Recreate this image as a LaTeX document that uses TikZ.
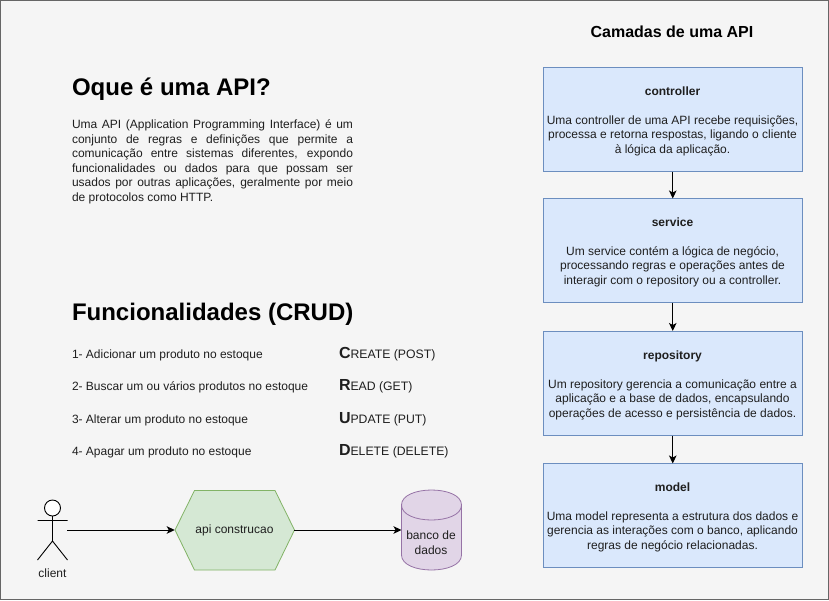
\documentclass[tikz,border=0pt]{standalone}
\usepackage{fontspec}
\setmainfont{Liberation Sans}
\usetikzlibrary{arrows.meta}
\definecolor{bgc}{HTML}{F5F5F5}
\definecolor{bdc}{HTML}{666666}
\definecolor{bluef}{HTML}{DAE8FC}
\definecolor{blued}{HTML}{6C8EBF}
\definecolor{greenf}{HTML}{D5E8D4}
\definecolor{greend}{HTML}{82B366}
\definecolor{purpf}{HTML}{E1D5E7}
\definecolor{purpd}{HTML}{9673A6}
\definecolor{txt}{HTML}{1F1F1F}
\newcommand{\fs}[1]{\fontsize{#1}{14.5}\selectfont}
\newcommand{\jl}[1]{\makebox[281pt][s]{#1}}
\newcommand{\crud}[2]{{\fs{16}\bfseries #1}{\fs{12.25}#2}}
\tikzset{
  x=1pt,y=-1pt,
  every node/.style={inner sep=0pt,outer sep=0pt,text=txt},
  layer/.style={draw=blued,fill=bluef,line width=0.8pt,minimum width=259.5pt,minimum height=104pt,anchor=north west},
  layertext/.style={align=center,font=\fs{12},anchor=center},
  title/.style={anchor=base west,font=\fs{24}\bfseries,text=black},
  item/.style={anchor=base west,font=\fs{12}},
  conn/.style={draw=black,line width=1pt,-{Stealth[length=8pt,width=7.5pt,inset=2pt]}},
}
\begin{document}
\begin{tikzpicture}
\useasboundingbox (0,0) rectangle (829,600);
\path[draw=bdc,fill=bgc,line width=1.4pt] (0.5,0.5) rectangle (828.5,599.5);

\node[anchor=center,font=\fs{16}\bfseries,text=black] (ctitle) at (672,31.5) {Camadas de uma API};

\node[layer] (controller) at (543,67.5) {};
\node[layer] (service) at (543,198.5) {};
\node[layer,minimum height=104.5pt] (repository) at (543,331) {};
\node[layer] (model) at (543,463.5) {};

\node[layertext] (tc) at (672.5,121) {\textbf{controller}\\[14.5pt]Uma controller de uma API recebe requisições,\\processa e retorna respostas, ligando o cliente\\à lógica da aplicação.};
\node[layertext] (ts) at (672.5,252) {\textbf{service}\\[14.5pt]Um service contém a lógica de negócio,\\processando regras e operações antes de\\interagir com o repository ou a controller.};
\node[layertext] (tr) at (672.5,385) {\textbf{repository}\\[14.5pt]Um repository gerencia a comunicação entre a\\aplicação e a base de dados, encapsulando\\operações de acesso e persistência de dados.};
\node[layertext] (tm) at (672.5,517) {\textbf{model}\\[14.5pt]Uma model representa a estrutura dos dados e\\gerencia as interações com o banco, aplicando\\regras de negócio relacionadas.};

\draw[conn] (controller) -- (service);
\draw[conn] (service) -- (repository);
\draw[conn] (repository) -- (model);

\node[title] (t1) at (72,95) {Oque é uma API?};
\node[anchor=north west,align=left,font=\fs{12}] (intro) at (72,120) {%
\jl{Uma API (Application Programming Interface) é um}\\
\jl{conjunto de regras e definições que permite a}\\
\jl{comunicação entre sistemas diferentes, expondo}\\
\jl{funcionalidades ou dados para que possam ser}\\
\jl{usados por outras aplicações, geralmente por meio}\\
de protocolos como HTTP.};

\node[title] (t2) at (72,320.5) {Funcionalidades (CRUD)};

\node[item] (i1) at (72,358) {1- Adicionar um produto no estoque};
\node[item] (i2) at (72,390) {2- Buscar um ou vários produtos no estoque};
\node[item] (i3) at (72,423) {3- Alterar um produto no estoque};
\node[item] (i4) at (72,455) {4- Apagar um produto no estoque};

\node[item] (c1) at (339,358) {\crud{C}{REATE (POST)}};
\node[item] (c2) at (339,390) {\crud{R}{EAD (GET)}};
\node[item] (c3) at (339,423) {\crud{U}{PDATE (PUT)}};
\node[item] (c4) at (339,455) {\crud{D}{ELETE (DELETE)}};

% actor
\draw[black,line width=0.9pt,fill=white] (52.5,508) circle (8);
\draw[black,line width=0.9pt] (52.5,516) -- (52.5,541) (37.5,520.5) -- (67.5,520.5)
  (37.5,560) -- (52.5,541) -- (67.5,560);
\coordinate (actor) at (67,530);
\node[anchor=center,font=\fs{12}] (client) at (52.5,573.5) {client};

% hexagon
\path[draw=greend,fill=greenf,line width=0.8pt] (175,530) -- (194.5,490.5) -- (275,490.5) -- (294.5,530) -- (275,570) -- (194.5,570) -- cycle;
\node[minimum width=119.5pt,minimum height=80pt,anchor=center,font=\fs{12}] (api) at (234.5,530) {api construcao};

% database
\path[draw=purpd,fill=purpf,line width=0.8pt] (401.5,505) .. controls (401.5,485) and (461.5,485) .. (461.5,505) -- (461.5,555) .. controls (461.5,575) and (401.5,575) .. (401.5,555) -- cycle;
\draw[purpd,line width=0.8pt] (401.5,505) .. controls (401.5,525) and (461.5,525) .. (461.5,505);
\node[minimum width=60pt,minimum height=80pt,anchor=center] (db) at (431.5,530) {};
\node[anchor=center,align=center,font=\fs{12}] (dbl) at (431,542.5) {banco de\\dados};

\draw[conn] (actor) -- (api.west);
\draw[conn] (api.east) -- (db.west);
\end{tikzpicture}
\end{document}
